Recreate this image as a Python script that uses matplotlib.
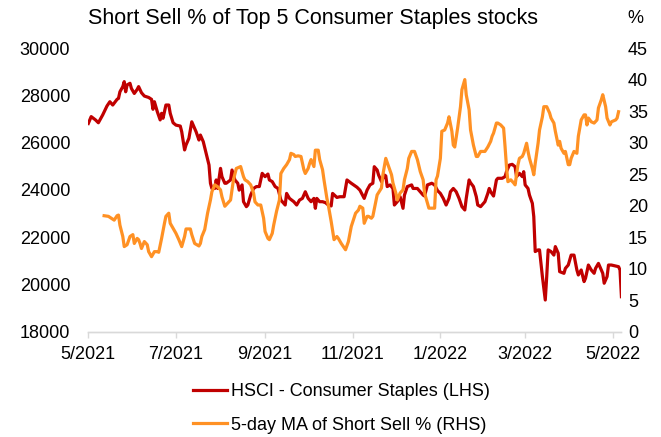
import matplotlib
matplotlib.use("Agg")
import matplotlib.pyplot as plt
import matplotlib.dates as mdates
from matplotlib.ticker import FuncFormatter
import pandas as pd

plt.rcParams['font.family'] = ['Liberation Sans', 'DejaVu Sans']
plt.rcParams['font.size'] = 13

title = "Short Sell % of Top 5 Consumer Staples stocks"
label_hsci = "HSCI - Consumer Staples (LHS)"
label_ss = "5-day MA of Short Sell % (RHS)"
start = "2021-05-01"

# days since 2021-05-01
hsci_days = [0, 2, 5, 7, 10, 13, 15, 17, 20, 21, 22, 24, 25, 26, 27, 29, 30, 32, 34, 35,
             37, 39, 42, 44, 45, 46, 47, 48, 50, 51, 52, 54, 56, 57, 59, 61, 64, 65, 67, 68,
             70, 72, 74, 75, 77, 78, 80, 82, 84, 85, 86, 88, 89, 90, 92, 93, 95, 96, 99, 100,
             102, 104, 105, 107, 108, 110, 111, 113, 115, 117, 119, 121, 123, 125, 126, 128, 130, 132, 134, 137,
             138, 140, 143, 145, 147, 149, 151, 153, 155, 157, 158, 159, 161, 163, 165, 167, 169, 170, 173, 175,
             178, 180, 183, 187, 189, 192, 194, 196, 198, 199, 201, 202, 204, 206, 207, 208, 210, 212, 213, 215,
             217, 219, 220, 222, 225, 226, 229, 231, 233, 234, 236, 239, 241, 243, 245, 247, 249, 251, 252, 254,
             256, 258, 260, 262, 263, 265, 266, 268, 270, 271, 273, 276, 278, 279, 280, 282, 284, 285, 288, 290,
             291, 293, 295, 297, 298, 300, 302, 303, 304, 306, 307, 309, 310, 311, 313, 314, 316, 318, 319, 320,
             322, 324, 325, 327, 328, 331, 332, 334, 336, 338, 340, 341, 343, 345, 346, 348, 350, 352, 353, 355,
             356, 358, 359, 361, 362, 364, 367, 369, 370, 371]
hsci_vals = [26810, 27100, 26960, 26840, 27170, 27550, 27730, 27590, 27830, 27870, 28150, 28370, 28580, 28150, 28440, 28510, 28290, 28080, 28250, 28370,
             28110, 27970, 27910, 27830, 27410, 27730, 27520, 27310, 26960, 27240, 27030, 27590, 27590, 27240, 26840, 26740, 26700, 26460, 25690, 25900,
             26180, 26880, 26600, 26460, 26110, 26320, 26040, 25550, 25050, 24280, 24060, 24060, 24420, 24060, 24910, 24560, 24280, 24280, 24420, 24840,
             24420, 24280, 23990, 24210, 23500, 23290, 23360, 23780, 24060, 24140, 24140, 24700, 24560, 24670, 24420, 24350, 24140, 24060, 23570, 23360,
             23850, 23640, 23500, 23360, 23570, 23640, 23920, 23640, 23500, 23640, 23220, 23640, 23500, 23500, 23460, 23360, 23320, 23850, 23680, 23710,
             23710, 24420, 24280, 24110, 23990, 23640, 23990, 24210, 24280, 24980, 24840, 24630, 24350, 24630, 24590, 24140, 24210, 24060, 23360, 23500,
             23710, 23220, 23780, 24140, 24210, 24060, 24060, 23920, 23780, 23740, 24210, 24280, 24210, 23970, 23850, 23640, 23360, 23640, 23920, 24060,
             23920, 23640, 23290, 23150, 23640, 24420, 24300, 24140, 23710, 23360, 23290, 23500, 23850, 24060, 23920, 23740, 24420, 24490, 24490, 24560,
             24770, 25050, 25080, 24980, 24560, 24700, 24560, 24770, 24210, 24060, 23780, 23430, 22870, 21390, 21460, 21460, 20330, 19340, 20330, 21460,
             21390, 21240, 21600, 21320, 20540, 20470, 20680, 20820, 21240, 21240, 20610, 20400, 20610, 20120, 20260, 20820, 20610, 20470, 20680, 20890,
             20750, 20470, 20050, 20330, 20820, 20820, 20780, 20750, 20610, 19480]

ss_days = [11, 14, 16, 18, 20, 21, 22, 24, 25, 27, 29, 31, 32, 34, 35, 36, 37, 39, 41, 42,
           44, 46, 48, 49, 51, 53, 54, 56, 57, 59, 61, 63, 65, 67, 68, 71, 72, 74, 77, 78,
           79, 81, 82, 83, 85, 86, 88, 90, 92, 93, 95, 97, 99, 100, 101, 103, 105, 106, 108, 109,
           111, 113, 115, 116, 118, 120, 122, 123, 125, 126, 128, 129, 131, 133, 134, 136, 138, 140, 141, 143,
           144, 146, 148, 150, 151, 153, 154, 155, 157, 158, 160, 161, 163, 164, 166, 167, 169, 171, 173, 174,
           176, 179, 181, 183, 186, 188, 189, 191, 192, 194, 195, 197, 198, 200, 201, 204, 205, 207, 209, 211,
           212, 214, 215, 217, 219, 220, 222, 223, 225, 227, 229, 231, 233, 234, 236, 237, 239, 241, 242, 243,
           245, 246, 248, 250, 251, 253, 254, 255, 257, 259, 260, 262, 263, 265, 266, 268, 270, 271, 273, 276,
           278, 280, 281, 282, 284, 285, 287, 289, 290, 291, 292, 294, 296, 297, 299, 300, 302, 303, 305, 306,
           307, 309, 310, 311, 313, 314, 316, 317, 319, 321, 322, 324, 325, 327, 328, 329, 331, 332, 334, 335,
           336, 338, 340, 341, 343, 345, 346, 347, 348, 350, 352, 354, 355, 357, 358, 360, 361, 363, 364, 367,
           368, 369]
ss_vals = [18.4, 18.3, 18.0, 17.7, 18.4, 18.5, 16.9, 15.1, 13.5, 13.8, 15.1, 15.4, 14.0, 14.8, 14.6, 14.0, 13.2, 14.3, 13.8, 12.7,
           11.9, 12.7, 12.7, 12.6, 14.8, 17.2, 18.3, 18.8, 17.2, 16.4, 15.6, 14.6, 13.5, 15.1, 16.3, 16.3, 15.4, 14.0, 13.6, 14.0,
           15.1, 16.2, 17.5, 18.8, 20.9, 22.2, 23.3, 23.0, 22.5, 21.4, 19.9, 20.4, 20.9, 22.5, 24.1, 25.9, 26.1, 26.2, 24.6, 24.1,
           23.8, 23.3, 22.0, 20.6, 20.1, 20.1, 18.0, 15.9, 14.8, 14.6, 15.6, 16.9, 19.1, 20.9, 25.1, 25.9, 26.5, 27.3, 28.3, 28.1,
           27.8, 27.9, 27.8, 25.7, 25.1, 25.9, 26.7, 27.3, 26.2, 28.8, 28.8, 27.3, 25.7, 24.1, 21.2, 20.1, 17.5, 14.6, 15.1, 14.8,
           14.0, 13.0, 14.3, 16.7, 18.8, 19.3, 19.9, 19.6, 17.2, 18.3, 18.3, 18.0, 18.3, 20.6, 21.7, 22.8, 24.9, 27.5, 26.2, 24.9,
           23.6, 22.0, 20.9, 22.0, 22.5, 24.1, 25.9, 27.5, 28.6, 28.6, 27.3, 25.4, 24.1, 22.0, 20.4, 19.6, 19.6, 19.6, 24.1, 24.7,
           27.5, 31.8, 32.0, 33.1, 34.1, 31.8, 29.6, 29.3, 32.3, 35.7, 38.4, 40.0, 37.6, 35.2, 32.0, 29.6, 27.8, 27.8, 28.6, 28.6,
           29.3, 30.2, 31.0, 31.5, 33.1, 33.1, 32.8, 32.3, 29.4, 26.2, 23.8, 24.1, 23.6, 23.3, 26.5, 27.5, 27.8, 28.3, 29.9, 28.6,
           27.5, 25.9, 24.9, 26.7, 29.9, 32.0, 34.1, 35.7, 35.7, 34.7, 33.9, 33.1, 31.8, 29.6, 30.2, 29.1, 28.3, 28.6, 26.5, 26.5,
           27.5, 28.6, 28.3, 31.0, 33.6, 34.4, 34.4, 32.8, 33.9, 33.3, 33.1, 33.6, 35.5, 36.8, 37.6, 35.7, 33.9, 32.8, 33.3, 33.6,
           33.9, 34.9]

x_ticks = ["2021-05-01", "2021-07-01", "2021-09-01", "2021-11-01", "2022-01-01", "2022-03-01", "2022-05-01"]
left_ticks = [18000, 20000, 22000, 24000, 26000, 28000, 30000]
right_ticks = [0, 5, 10, 15, 20, 25, 30, 35, 40, 45]

t0 = pd.Timestamp(start)
hsci_dates = t0 + pd.to_timedelta(hsci_days, unit="D")
ss_dates = t0 + pd.to_timedelta(ss_days, unit="D")

red = "#C00000"
orange = "#FF9124"
grey = "#D9D9D9"


def month_year(v, pos):
    d = mdates.num2date(v)
    return "%d/%d" % (d.month, d.year)


fig = plt.figure(figsize=(6.61, 4.37), dpi=100)
ax = fig.add_axes([0.1336, 0.241, 0.806, 0.649])
ax2 = ax.twinx()

l1, = ax.plot(hsci_dates, hsci_vals, color=red, lw=2.3, solid_joinstyle="round", label=label_hsci)
l2, = ax2.plot(ss_dates, ss_vals, color=orange, lw=2.3, solid_joinstyle="round", label=label_ss)

ax.set_xlim(t0, pd.Timestamp("2022-05-06 18:00"))
ax.set_ylim(18000, 30000)
ax2.set_ylim(0, 45)
ax.set_yticks(left_ticks)
ax2.set_yticks(right_ticks)
ax.set_xticks(pd.to_datetime(x_ticks))
ax.xaxis.set_major_formatter(FuncFormatter(month_year))

for a in (ax, ax2):
    for s in ("top", "left", "right"):
        a.spines[s].set_visible(False)
    a.spines["bottom"].set_color(grey)
    a.spines["bottom"].set_linewidth(1.0)
ax.tick_params(axis="x", colors=grey, length=4, width=1.0, direction="out", pad=6, labelcolor="black", labelsize=13)
ax.tick_params(axis="y", length=0, pad=13, labelsize=13)
ax2.tick_params(axis="y", length=0, pad=5, labelsize=13)

fig.text(0.473, 0.958, title, ha="center", va="center", fontsize=15.5)
fig.text(0.961, 0.958, "%", ha="center", va="center", fontsize=13)

fig.legend(handles=[l1, l2], loc="center", bbox_to_anchor=(0.516, 0.065), ncol=1, frameon=False,
           fontsize=13, handlelength=1.9, handletextpad=0.2, labelspacing=0.9, borderpad=0)

fig.savefig("out.png", dpi=100)
